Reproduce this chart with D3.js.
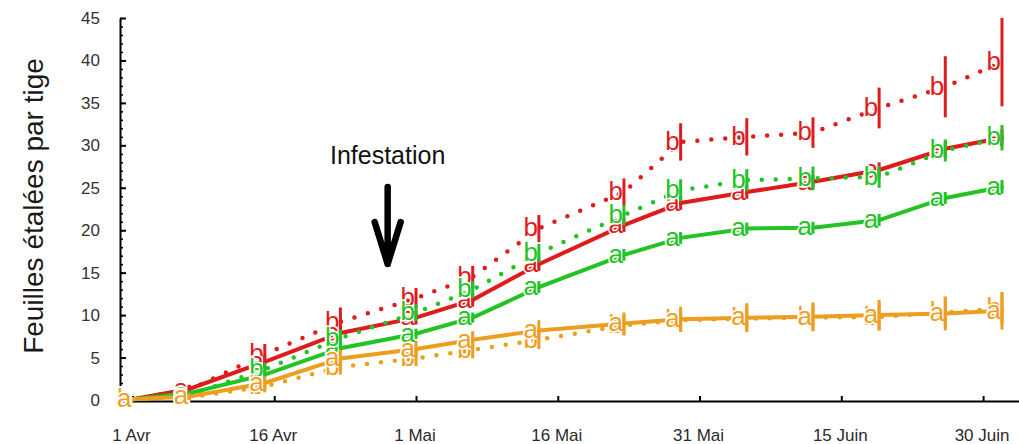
<!DOCTYPE html>
<html>
<head>
<meta charset="utf-8">
<script src="https://cdn.jsdelivr.net/npm/d3@7"></script>
<style>
  html, body { margin: 0; padding: 0; background: #fff; }
  svg { display: block; }
</style>
</head>
<body>
<svg id="chart" width="1019" height="444"></svg>
<script>
// dates of the counts
const dates = ["2010-04-01", "2010-04-07", "2010-04-15", "2010-04-23", "2010-05-01", "2010-05-07", "2010-05-14",
               "2010-05-23", "2010-05-29", "2010-06-05", "2010-06-12", "2010-06-19", "2010-06-26", "2010-07-02"];

// leaves per stem, one list per curve
const redSolid     = [0.1, 1.3, 4.5, 7.9, 9.7, 11.8, 16.0, 20.6, 23.2, 24.5, 25.7, 27.1, 29.6, 30.9];
const redDotted    = [0.1, 1.2, 5.4, 9.2, 12.0, 14.5, 20.2, 24.5, 30.4, 31.0, 31.5, 34.4, 36.9, 39.8];
const greenSolid   = [0.1, 0.8, 3.0, 6.1, 7.8, 9.7, 13.3, 17.1, 19.1, 20.2, 20.3, 21.2, 23.8, 25.1];
const greenDotted  = [0.1, 0.6, 3.6, 7.3, 10.3, 13.0, 17.3, 21.8, 24.7, 25.9, 26.1, 26.3, 29.4, 30.9];
const orangeSolid  = [0.1, 0.4, 2.0, 4.9, 6.0, 7.1, 8.2, 9.0, 9.5, 9.7, 9.8, 10.0, 10.2, 10.5];
const orangeDotted = [0.1, 0.3, 1.6, 3.9, 4.9, 5.9, 7.1, 8.8, 9.4, 9.6, 9.7, 9.8, 10.3, 10.8];

// half length of the error bars
const redSolidErr     = [0, 0.5, 0.8, 0.8, 0.8, 0.8, 0.8, 0.8, 0.8, 0.8, 0.8, 0.9, 0.9, 1.0];
const redDottedErr    = [0, 0.5, 1.2, 1.7, 1.2, 1.3, 1.6, 1.6, 2.2, 2.2, 1.8, 2.4, 3.6, 5.2];
const greenSolidErr   = [0, 0.3, 0.5, 0.6, 0.6, 0.6, 0.7, 0.7, 0.7, 0.7, 0.7, 0.7, 0.7, 0.8];
const greenDottedErr  = [0, 0.4, 0.8, 1.0, 1.0, 1.0, 1.1, 1.2, 1.3, 1.3, 1.4, 1.3, 1.3, 1.5];
const orangeSolidErr  = [0, 0.4, 0.8, 1.0, 1.0, 1.0, 1.2, 1.3, 1.5, 1.7, 1.7, 1.8, 2.0, 2.2];
const orangeDottedErr = [0, 0.3, 0.7, 0.9, 0.9, 1.0, 1.1, 1.2, 1.3, 1.5, 1.5, 1.6, 1.8, 1.9];

// significance letters
const solidLetters  = ["a", "a", "a", "a", "a", "a", "a", "a", "a", "a", "a", "a", "a", "a"];
const dottedLetters = ["b", "a", "b", "b", "b", "b", "b", "b", "b", "b", "b", "b", "b", "b"];

// axis ticks
const xTickDates  = ["2010-04-01", "2010-04-16", "2010-05-01", "2010-05-16", "2010-05-31", "2010-06-15", "2010-06-30"];
const xTickLabels = ["1 Avr", "16 Avr", "1 Mai", "16 Mai", "31 Mai", "15 Juin", "30 Juin"];
const yTicks = [0, 5, 10, 15, 20, 25, 30, 35, 40, 45];

const RED = "#e01b1b";
const GREEN = "#22c322";
const ORANGE = "#ee9e1e";
const NARROW = "'Liberation Sans Narrow', 'Arial Narrow', sans-serif";
const SANS = "'Liberation Sans', Arial, sans-serif";

const parse = d3.utcParse("%Y-%m-%d");
const day0 = parse("2010-04-01");
const dayOf = s => d3.utcDay.count(day0, parse(s));

const svg = d3.select("#chart");

const x = d3.scaleLinear().domain([-1.32, 93.8]).range([120, 1019]);
const y = d3.scaleLinear().domain([0, 45]).range([400, 18]);

const series = [
  { v: redDotted,    e: redDottedErr,    l: dottedLetters, c: RED,    dotted: true },
  { v: redSolid,     e: redSolidErr,     l: solidLetters,  c: RED,    dotted: false },
  { v: greenSolid,   e: greenSolidErr,   l: solidLetters,  c: GREEN,  dotted: false },
  { v: greenDotted,  e: greenDottedErr,  l: dottedLetters, c: GREEN,  dotted: true },
  { v: orangeDotted, e: orangeDottedErr, l: dottedLetters, c: ORANGE, dotted: true },
  { v: orangeSolid,  e: orangeSolidErr,  l: solidLetters,  c: ORANGE, dotted: false }
];

const days = dates.map(dayOf);

// y axis, major and minor ticks pointing inward
svg.append("g")
  .attr("transform", "translate(120,0)")
  .call(d3.axisRight(y).tickValues(d3.range(0, 46, 1)).tickSize(3).tickFormat(""))
  .call(g => g.select(".domain").remove())
  .call(g => g.selectAll("line").attr("stroke", "#000").attr("stroke-width", 1.5));
svg.append("g")
  .attr("transform", "translate(120,0)")
  .call(d3.axisRight(y).tickValues(yTicks).tickSize(6).tickSizeOuter(0).tickFormat(""))
  .call(g => g.select(".domain").attr("stroke", "#000").attr("stroke-width", 2))
  .call(g => g.selectAll("line").attr("stroke", "#000").attr("stroke-width", 2));

svg.append("g")
  .selectAll("text")
  .data(yTicks)
  .join("text")
  .attr("x", 100)
  .attr("y", d => y(d))
  .attr("dy", "0.35em")
  .attr("text-anchor", "end")
  .attr("font-family", SANS)
  .attr("font-size", 17)
  .attr("fill", "#333")
  .text(d => d);

// x axis
svg.append("g")
  .attr("transform", "translate(0,401)")
  .call(d3.axisTop(x).tickValues(xTickDates.map(dayOf)).tickSize(5).tickSizeOuter(0).tickFormat(""))
  .call(g => g.select(".domain").attr("stroke", "#000").attr("stroke-width", 2))
  .call(g => g.selectAll("line").attr("stroke", "#000").attr("stroke-width", 2));

svg.append("g")
  .selectAll("text")
  .data(xTickDates)
  .join("text")
  .attr("x", d => x(dayOf(d)) - 1)
  .attr("y", 435)
  .attr("dy", "0.35em")
  .attr("text-anchor", "middle")
  .attr("font-family", NARROW)
  .attr("font-size", 17)
  .attr("fill", "#2a2a2a")
  .text((d, i) => xTickLabels[i]);

// axis title
svg.append("text")
  .attr("transform", "translate(43,206) rotate(-90)")
  .attr("text-anchor", "middle")
  .attr("font-family", SANS)
  .attr("font-size", 28)
  .attr("fill", "#1a1a1a")
  .text("Feuilles étalées par tige");

// curves
const line = d3.line().x((d, i) => x(days[i])).y(d => y(d));

svg.append("g")
  .selectAll("path")
  .data(series)
  .join("path")
  .attr("d", s => line(s.v))
  .attr("fill", "none")
  .attr("stroke", s => s.c)
  .attr("stroke-width", s => s.dotted ? 4.5 : 4)
  .attr("stroke-linecap", "round")
  .attr("stroke-dasharray", s => s.dotted ? "0 14" : null);

// letters, with a white halo that breaks the curves
series.forEach(s => {
  svg.append("g")
    .selectAll("text")
    .data(s.v)
    .join("text")
    .attr("x", (d, i) => x(days[i]) - 1)
    .attr("y", d => y(d))
    .attr("dy", "0.3em")
    .attr("text-anchor", "end")
    .attr("font-family", NARROW)
    .attr("font-size", 26)
    .attr("fill", s.c)
    .attr("stroke", "#fff")
    .attr("stroke-width", 3)
    .attr("paint-order", "stroke")
    .text((d, i) => s.l[i]);
});

// error bars
series.forEach(s => {
  svg.append("g")
    .selectAll("line")
    .data(s.v)
    .join("line")
    .attr("x1", (d, i) => x(days[i]))
    .attr("x2", (d, i) => x(days[i]))
    .attr("y1", (d, i) => y(d - s.e[i]))
    .attr("y2", (d, i) => y(d + s.e[i]))
    .attr("stroke", s.c)
    .attr("stroke-width", 3);
});

// infestation marker
const infestDay = 27;
const ax = x(infestDay);
svg.append("text")
  .attr("x", ax)
  .attr("y", 164)
  .attr("text-anchor", "middle")
  .attr("font-family", SANS)
  .attr("font-size", 25)
  .attr("fill", "#111")
  .text("Infestation");

svg.append("path")
  .attr("d", `M${ax},187 L${ax},264 M${ax - 13},222 L${ax},264 L${ax + 13},222`)
  .attr("fill", "none")
  .attr("stroke", "#000")
  .attr("stroke-width", 6.5)
  .attr("stroke-linecap", "round")
  .attr("stroke-linejoin", "round");
</script>
</body>
</html>
